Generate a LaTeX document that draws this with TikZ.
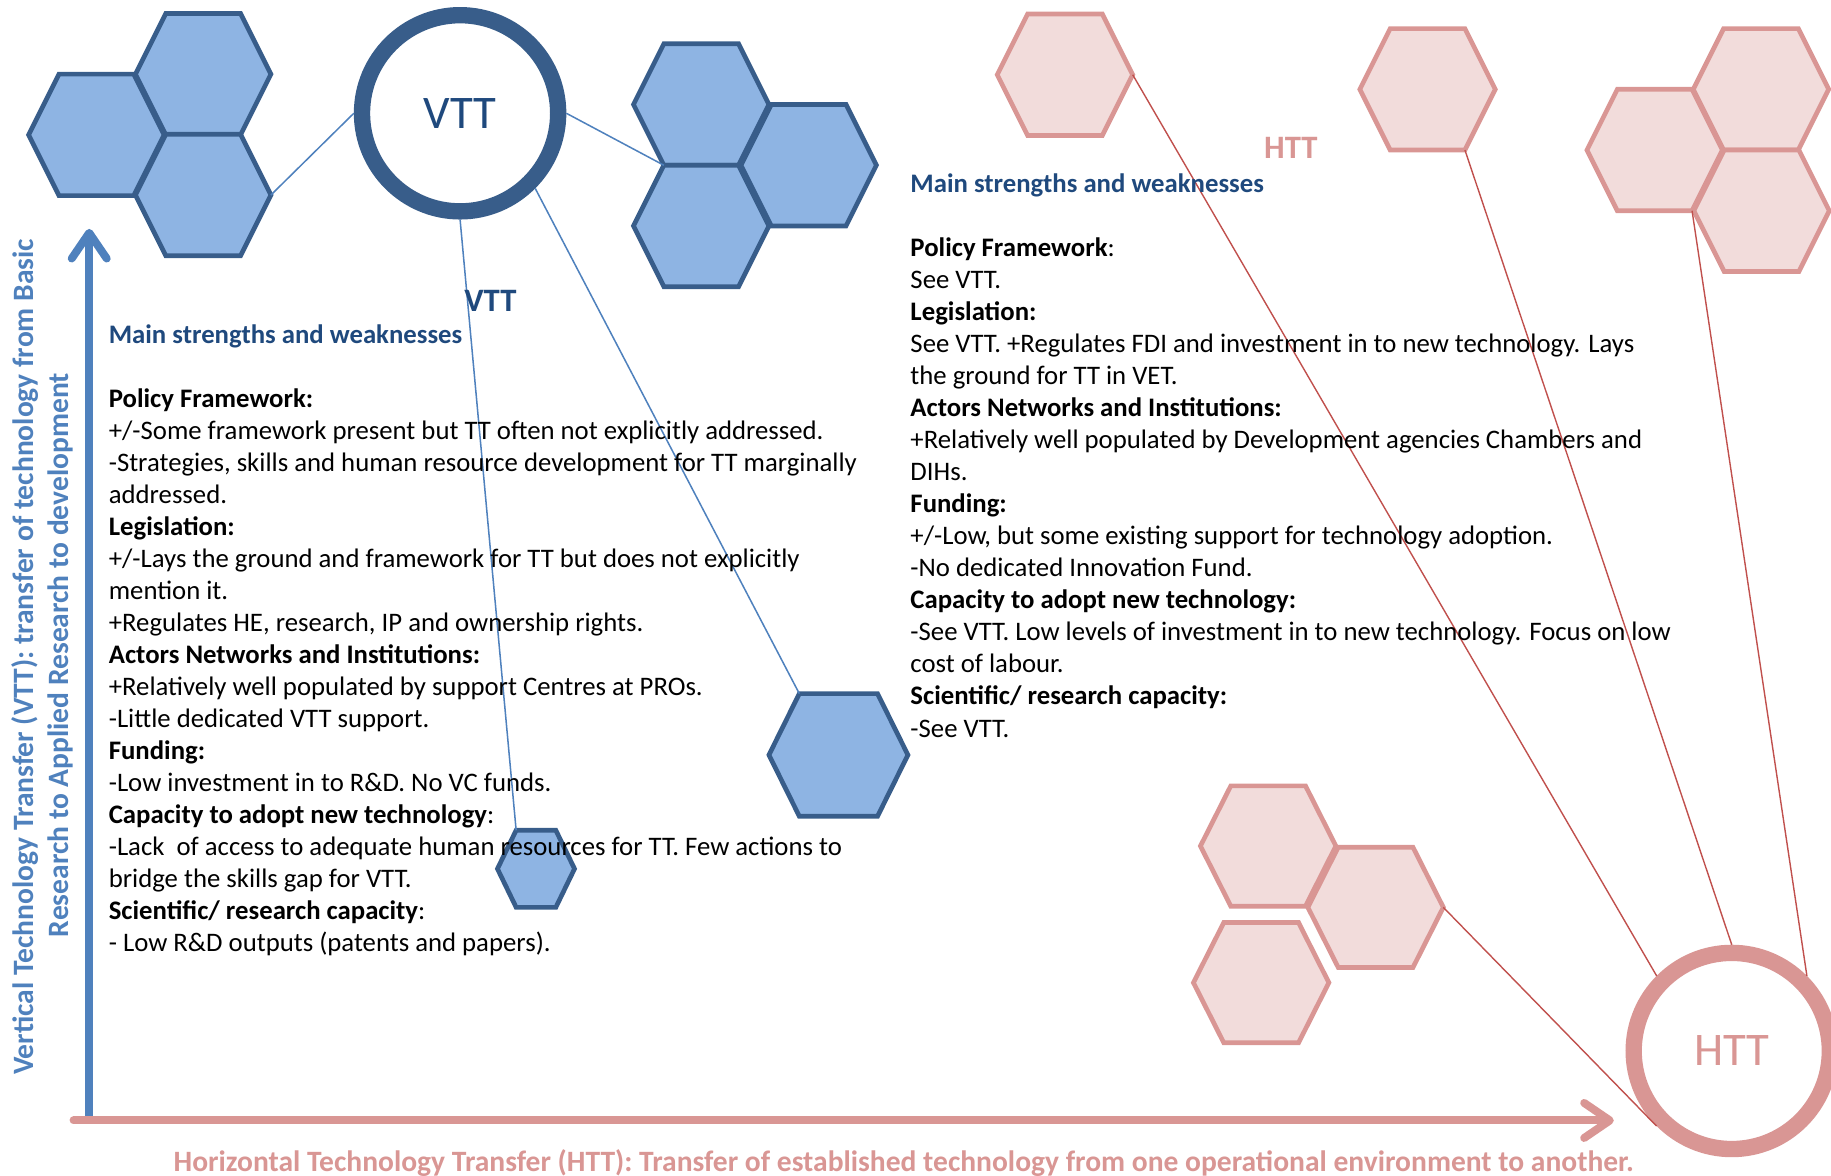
\documentclass[tikz,border=0pt]{standalone}
\usepackage{fontspec}
\setmainfont{Carlito}
\usetikzlibrary{arrows.meta}

\definecolor{ringblue}{HTML}{385D8A}
\definecolor{hexblue}{HTML}{8EB4E3}
\definecolor{axisblue}{HTML}{4F81BD}
\definecolor{headblue}{HTML}{1F497D}
\definecolor{rosestroke}{HTML}{D99694}
\definecolor{rosefill}{HTML}{F2DCDB}
\definecolor{linkred}{HTML}{C0504D}

% hexagon with flat top and bottom; vertices are stored as named coordinates
% #1 name, #2 #3 centre, #4 half width, #5 half edge, #6 half height, #7 style
\newcommand{\hexcell}[7]{%
  \path[#7, shift={(#2,#3)}]
    (-#4,0) coordinate (#1-w) -- (-#5,-#6) coordinate (#1-nw) -- (#5,-#6) coordinate (#1-ne)
    -- (#4,0) coordinate (#1-e) -- (#5,#6) coordinate (#1-se) -- (-#5,#6) coordinate (#1-sw) -- cycle;}

\newcommand{\bodyfont}{\fontsize{22.9}{27.42}\selectfont}
\newcommand{\captionfont}{\fontsize{25.3}{30}\selectfont\bfseries}

\tikzset{
  bluehex/.style={draw=ringblue, fill=hexblue, line width=4pt},
  rosehex/.style={draw=rosestroke, fill=rosefill, line width=4pt},
  hubring/.style={circle, line width=14pt, minimum size=168pt, inner sep=0pt, fill=white,
    font=\fontsize{40}{48}\selectfont},
  bluelink/.style={draw=axisblue, line width=1.3pt},
  redlink/.style={draw=linkred, line width=1.2pt},
  axis/.style={line width=6.8pt, line cap=round,
    -{Straight Barb[length=22pt, width=30pt, line cap=round, line join=round]}},
  notes/.style={anchor=base west, inner sep=0pt},
  title/.style={anchor=base, inner sep=0pt, font=\fontsize{28}{34}\selectfont\bfseries},
}

\begin{document}
\begin{tikzpicture}[x=1pt, y=-1pt]
\useasboundingbox (0,0) rectangle (1568,1007);

% blue cells around VTT
\hexcell{la}{82.5}{115.5}{58}{32}{52}{bluehex}
\hexcell{lt}{174}{63.5}{58}{32}{52}{bluehex}
\hexcell{lb}{174}{167}{58}{32}{52}{bluehex}
\hexcell{rt}{600.5}{89.5}{58}{32}{52}{bluehex}
\hexcell{rr}{692.5}{141.5}{58}{32}{52}{bluehex}
\hexcell{rb}{600.5}{193.5}{58}{32}{52}{bluehex}
\hexcell{md}{718}{646.5}{59.5}{33.5}{52.5}{bluehex}
\hexcell{sm}{459}{744}{33}{17}{33}{bluehex}

% rose cells around HTT
\hexcell{p1}{912}{64}{58}{32}{52}{rosehex}
\hexcell{p2}{1222.5}{76.5}{58}{32}{52}{rosehex}
\hexcell{p3}{1508}{76.5}{58}{32}{52}{rosehex}
\hexcell{p4}{1417}{128.5}{58}{32}{52}{rosehex}
\hexcell{p5}{1508.5}{180.5}{58}{32}{52}{rosehex}
\hexcell{q1}{1086}{724.5}{58}{32}{51.5}{rosehex}
\hexcell{q2}{1178}{777}{58}{32}{51.5}{rosehex}
\hexcell{q3}{1080}{841.5}{58}{32}{51.5}{rosehex}

% hubs
\node[hubring, draw=ringblue, text=headblue] (vtt) at (394,97) {VTT};
\node[hubring, draw=rosestroke, text=rosestroke] (htt) at (1483,900) {HTT};

% connectors
\draw[bluelink] (lb-e) -- (vtt.west);
\draw[bluelink] (vtt.east) -- (rt-sw);
\draw[bluelink] (vtt.south) -- (sm-nw);
\draw[bluelink] (vtt.south east) -- (md-nw);
\draw[redlink] (p1-e) -- (htt.north west);
\draw[redlink] (p2-se) -- (htt.north);
\draw[redlink] (p4-se) -- (htt.north east);
\draw[redlink] (q2-e) -- (htt.south west);

% axes
\coordinate (vbase) at (76.4,957);
\coordinate (vtip) at (76.4,196);
\coordinate (hbase) at (63,959.5);
\coordinate (htip) at (1382,959.5);
\draw[axis, axisblue] (vbase) -- (vtip);
\draw[axis, rosestroke] (hbase) -- (htip);

% axis captions
\node[rotate=90, anchor=base, inner sep=0pt, text=axisblue, font=\captionfont] (vcap1) at (28.5,562.5)
  {Vertical Technology Transfer (VTT): transfer of technology from Basic};
\node[rotate=90, anchor=base, inner sep=0pt, text=axisblue, font=\captionfont] (vcap2) at (58.5,561)
  {Research to Applied Research to development};
\node[anchor=base west, inner sep=0pt, text=rosestroke, font=\captionfont] (hcap) at (148.5,1002.8)
  {Horizontal Technology Transfer (HTT): Transfer of established technology from one operational environment to another.};

% notes
\node[title, text=headblue] (vtttitle) at (420,267) {VTT};
\node[title, text=rosestroke] (htttitle) at (1105.5,135.6) {HTT};

\node[notes] (vttnotes) at (93,294.2) {\begin{minipage}[t]{760pt}\bodyfont\raggedright
\textcolor{headblue}{\textbf{Main strengths and weaknesses}}\par\vskip27.42pt
\textbf{Policy Framework:}\\
+/-Some framework present but TT often not explicitly addressed.\\
-Strategies, skills and human resource development for TT marginally\\
addressed.\\
\textbf{Legislation:}\\
+/-Lays the ground and framework for TT but does not explicitly\\
mention it.\\
+Regulates HE, research, IP and ownership rights.\\
\textbf{Actors Networks and Institutions:}\\
+Relatively well populated by support Centres at PROs.\\
-Little dedicated VTT support.\\
\textbf{Funding:}\\
-Low investment in to R\&D. No VC funds.\\
\textbf{Capacity to adopt new technology}:\\
-Lack~ of access to adequate human resources for TT. Few actions to\\
bridge the skills gap for VTT.\\
\textbf{Scientific/ research capacity}:\\
- Low R\&D outputs (patents and papers).
\end{minipage}};

\node[notes] (httnotes) at (779.5,165) {\begin{minipage}[t]{760pt}\bodyfont\raggedright
\textcolor{headblue}{\textbf{Main strengths and weaknesses}}\par\vskip27.42pt
\textbf{Policy Framework}:\\
See VTT.\\
\textbf{Legislation:}\\
See VTT. +Regulates FDI and investment in to new technology. Lays\\
the ground for TT in VET.\\
\textbf{Actors Networks and Institutions:}\\
+Relatively well populated by Development agencies Chambers and\\
DIHs.\\
\textbf{Funding:}\\
+/-Low, but some existing support for technology adoption.\\
-No dedicated Innovation Fund.\\
\textbf{Capacity to adopt new technology:}\\
-See VTT. Low levels of investment in to new technology. Focus on low\\
cost of labour.\\
\textbf{Scientific/ research capacity:}\\
-See VTT.
\end{minipage}};
\end{tikzpicture}
\end{document}
